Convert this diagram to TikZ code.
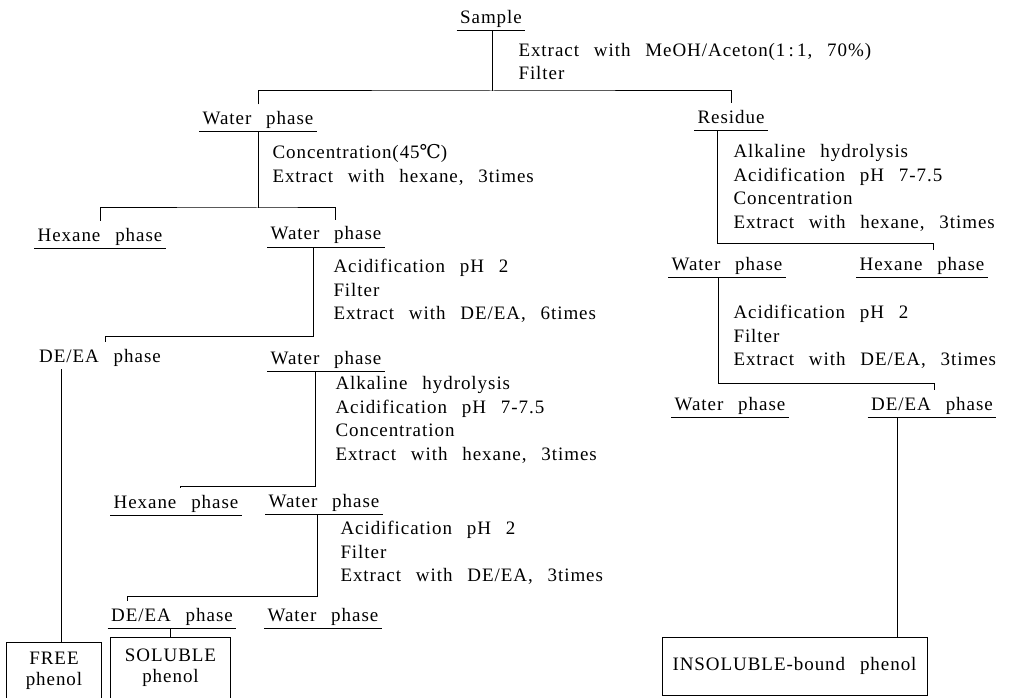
\documentclass[tikz,border=0pt]{standalone}
\usepackage{fontspec}
\setmainfont{Liberation Serif}[LetterSpace=5,WordSpace=2.6]
\newfontfamily\degfont{DejaVu Serif}
\newcommand\fst{\rule{0pt}{14pt}}
\begin{document}
\begin{tikzpicture}[x=1pt,y=-1pt,line width=1pt,
  every node/.style={font=\fontsize{19}{23.5}\selectfont},
  ph/.style={anchor=base,inner xsep=3pt,inner ysep=0pt,text height=20pt,text depth=6.5pt},
  stepbox/.style={anchor=north west,inner sep=0pt,align=left},
  resbox/.style={inner sep=0pt,align=center,font=\fontsize{19}{21}\selectfont}]
\fill[white] (0,0) rectangle (1010,698);
\useasboundingbox (0,0) rectangle (1010,698);

% phase nodes
\node[ph] (sample) at (491,24) {Sample};
\node[ph] (wp1) at (258,125) {Water phase};
\node[ph] (res) at (731,124) {Residue};
\node[ph] (hex1) at (100,241) {Hexane phase};
\node[ph] (wp2) at (326,240) {Water phase};
\node[ph] (dea1) at (100,362) {DE/EA phase};
\node[ph] (wp3) at (326,364) {Water phase};
\node[ph] (hex2) at (176,508) {Hexane phase};
\node[ph] (wp4) at (324,507) {Water phase};
\node[ph] (dea2) at (172,621) {DE/EA phase};
\node[ph] (wp5) at (323,621) {Water phase};
\node[ph] (wpr1) at (727,270) {Water phase};
\node[ph] (hexr1) at (922,270) {Hexane phase};
\node[ph] (wpr2) at (730,410) {Water phase};
\node[ph] (dear2) at (932,410) {DE/EA phase};

% step texts
\node[stepbox] (t0) at (518,42) {\fst Extract with MeOH/Aceton(1\,:\,1, 70\%)\\Filter};
\node[stepbox] (t1) at (272,144) {\fst Concentration(45{\degfont ℃})\\Extract with hexane, 3times};
\node[stepbox] (t2) at (333,258) {\fst Acidification pH 2\\Filter\\Extract with DE/EA, 6times};
\node[stepbox] (t3) at (335,375) {\fst Alkaline hydrolysis\\Acidification pH 7-7.5\\Concentration\\Extract with hexane, 3times};
\node[stepbox] (t4) at (340,520) {\fst Acidification pH 2\\Filter\\Extract with DE/EA, 3times};
\node[stepbox] (tr1) at (733,143) {\fst Alkaline hydrolysis\\Acidification pH 7-7.5\\Concentration\\Extract with hexane, 3times};
\node[stepbox] (tr2) at (733,304) {\fst Acidification pH 2\\Filter\\Extract with DE/EA, 3times};

% result boxes
\node[resbox,minimum width=94pt,minimum height=55pt] (free) at (54,670.5) {FREE\\phenol};
\node[resbox,minimum width=119pt,minimum height=60pt] (sol) at (170.5,668) {SOLUBLE\\phenol};
\node[resbox,draw,minimum width=265pt,minimum height=58pt] (insol) at (794.5,666) {INSOLUBLE-bound phenol};
\draw (free.south west) -- (free.north west) -- (free.north east) -- (free.south east);
\draw (sol.south west) -- (sol.north west) -- (sol.north east) -- (sol.south east);

% underlines
\foreach \n in {sample,wp1,res,hex1,wp2,wp3,hex2,wp4,dea2,wp5,wpr1,hexr1,wpr2,dear2}
  \draw (\n.south west) -- (\n.south east);

% junctions and tick positions
\coordinate (j0) at (492,91);
\coordinate (j1) at (258,208);
\coordinate (k1) at (335,0);
\coordinate (j2) at (313,336);
\coordinate (k2) at (105,0);
\coordinate (j3) at (315,486);
\coordinate (k3) at (180,0);
\coordinate (j4) at (317,596);
\coordinate (k4) at (127,0);
\coordinate (jr1) at (717,243);
\coordinate (kr1) at (933,0);
\coordinate (jr2) at (718,383);
\coordinate (kr2) at (934,0);
\coordinate (v1) at (897,0);
\coordinate (v0) at (61,0);

% connectors
\draw (sample.south -| j0) -- (j0);
\draw (wp1.north) |- (j0) -| (res.north);
\draw (wp1.south -| j1) -- (j1);
\draw (hex1.north) |- (j1) -| (wp2.north -| k1);
\draw (wp2.south -| j2) -- (j2) -| (dea1.north -| k2);
\draw (wp3.south -| j3) -- (j3) -| (hex2.north -| k3);
\draw (wp4.south -| j4) -- (j4) -| (dea2.north -| k4);
\draw (res.south -| jr1) -- (jr1) -| (hexr1.north -| kr1);
\draw (wpr1.south -| jr2) -- (jr2) -| (dear2.north -| kr2);
\draw (dear2.south -| v1) -- (insol.north -| v1);
\draw (dea2.south -| sol.north) -- (sol.north);
\draw (dea1.south -| v0) -- (free.north -| v0);
\end{tikzpicture}
\end{document}
